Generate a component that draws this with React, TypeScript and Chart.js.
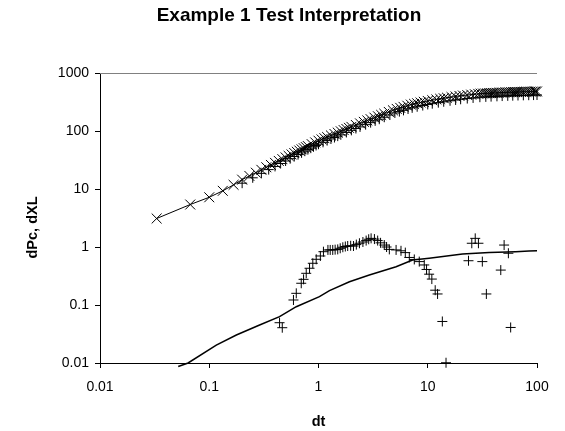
import React, { useEffect, useRef } from 'react';
import { Chart, registerables } from 'chart.js';

Chart.register(...registerables);

const TITLE = 'Example 1 Test Interpretation';
const X_TITLE = 'dt';
const Y_TITLE = 'dPc, dXL';

const xTickValues = [0.01, 0.1, 1, 10, 100];
const xTickLabels = ['0.01', '0.1', '1', '10', '100'];
const yTickValues = [0.01, 0.1, 1, 10, 100, 1000];
const yTickLabels = ['0.01', '0.1', '1', '10', '100', '1000'];

// Series 1: x markers joined by a thin line
const dtCross = [0.033, 0.067, 0.1, 0.133, 0.167, 0.2, 0.233, 0.267, 0.3, 0.333, 0.367, 0.4, 0.433, 0.467, 0.5, 0.533, 0.567, 0.6, 0.633, 0.667, 0.7, 0.733, 0.767, 0.8, 0.867, 0.933, 1.0, 1.067, 1.133, 1.2, 1.3, 1.4, 1.5, 1.6, 1.7, 1.8, 1.9, 2.0, 2.2, 2.4, 2.6, 2.8, 3.0, 3.25, 3.5, 3.75, 4.0, 4.4, 4.8, 5.2, 5.6, 6.0, 6.5, 7.0, 7.5, 8.0, 8.6, 9.2, 10, 11, 12, 13, 14, 15, 16.5, 18, 19.5, 21, 23, 25, 27, 29, 30.5, 32, 33.5, 35, 36.5, 38, 39.5, 41, 43, 45, 47, 49, 51, 53, 55.5, 58, 60.5, 63, 65.5, 68, 71, 74, 77, 80, 83.5, 87, 90.5, 94, 97, 100];
const valCross = [3.1, 5.4, 7.2, 9.3, 11.8, 14.5, 16.8, 19.1, 21.4, 23.7, 26.0, 28.2, 30.5, 32.7, 35.0, 37.2, 39.4, 41.7, 43.9, 46.1, 48.3, 50.5, 52.7, 54.9, 59.3, 63.6, 68, 71.6, 75.1, 78.6, 83.8, 88.9, 93.8, 98.8, 103.7, 108.5, 113.3, 118, 126.8, 135.3, 143.7, 151.9, 160, 169.9, 179.7, 189.2, 198.6, 213.3, 227.5, 240.3, 250.7, 260.9, 272.9, 285, 293.2, 301, 310, 318.7, 330, 340, 349.4, 358.4, 366.9, 375, 384.7, 393.8, 402.4, 409, 416.7, 423.9, 430.5, 436.9, 440.7, 442.7, 444.7, 446.5, 448.3, 450, 451.7, 453.3, 455.4, 457.4, 459.3, 461.1, 462.5, 463.7, 465.0, 466.4, 467.6, 468.8, 470.0, 471.1, 472.1, 473.2, 474.1, 475, 476.0, 476.9, 477.8, 478.6, 479.3, 480];

// Series 2: + markers in the upper band
const dtPlusTop = [0.2, 0.25, 0.3, 0.35, 0.4, 0.45, 0.5, 0.55, 0.6, 0.65, 0.7, 0.75, 0.8, 0.85, 0.9, 0.95, 1.0, 1.1, 1.2, 1.3, 1.4, 1.5, 1.6, 1.8, 2.0, 2.2, 2.4, 2.7, 3.0, 3.3, 3.6, 4.0, 4.5, 5.0, 5.5, 6.0, 6.6, 7.2, 8.0, 9.0, 10, 11, 12.5, 14, 16, 18, 20, 23, 26, 30, 34, 38, 43, 48, 54, 60, 67, 75, 84, 93, 100];
const valPlusTop = [12.6, 15.6, 18.6, 21.6, 24.5, 27.5, 30.4, 33.3, 36.3, 39.2, 42.0, 44.9, 47.8, 50.6, 53.5, 56.3, 59.2, 63.8, 68.4, 72.9, 77.3, 81.6, 86.0, 94.4, 102.7, 110.3, 117.7, 128.6, 139.2, 149.5, 159.7, 172.8, 188.6, 204.5, 215.9, 227.0, 239.4, 250.8, 261.9, 274.7, 287.1, 295.8, 308.1, 319.2, 331.9, 342.6, 352.4, 362.5, 371.8, 382.8, 387.4, 391.5, 396.2, 400.4, 403.9, 406.6, 409.5, 412.0, 414.2, 416.2, 417.6];

// Series 3: + markers (lower hump and scatter)
const dtDeriv = [0.44, 0.466, 0.59, 0.626, 0.695, 0.73, 0.772, 0.828, 0.887, 0.953, 1.04, 1.11, 1.22, 1.28, 1.35, 1.42, 1.5, 1.58, 1.67, 1.76, 1.85, 1.97, 2.09, 2.22, 2.37, 2.55, 2.73, 2.88, 3.03, 3.25, 3.48, 3.7, 4.0, 4.2, 4.45, 5.13, 5.69, 6.23, 6.78, 7.53, 8.36, 9.29, 9.75, 10.3, 10.9, 11.7, 12.3, 13.6, 14.7, 23.6, 25.3, 27.2, 29.1, 31.6, 34.4, 46.6, 50, 54.7, 57.4];
const valDeriv = [0.0495, 0.0406, 0.122, 0.159, 0.237, 0.277, 0.352, 0.43, 0.524, 0.614, 0.7, 0.83, 0.89, 0.89, 0.89, 0.9, 0.91, 0.95, 0.99, 1.02, 1.04, 1.05, 1.04, 1.1, 1.16, 1.22, 1.29, 1.36, 1.41, 1.37, 1.29, 1.18, 1.08, 1.0, 0.91, 0.89, 0.86, 0.8, 0.66, 0.61, 0.56, 0.49, 0.41, 0.34, 0.28, 0.18, 0.155, 0.052, 0.0101, 0.58, 1.16, 1.41, 1.16, 0.56, 0.155, 0.4, 1.08, 0.78, 0.041];

// Series 4: solid curve without markers
const dtModel = [0.052, 0.064, 0.116, 0.177, 0.289, 0.44, 0.626, 1.02, 1.26, 1.92, 2.92, 5.13, 7.26, 10.3, 20.8, 36.5, 63.9, 84.5, 100];
const valModel = [0.0087, 0.01, 0.0204, 0.0304, 0.0452, 0.0629, 0.0935, 0.139, 0.177, 0.252, 0.329, 0.457, 0.597, 0.64, 0.757, 0.8, 0.83, 0.853, 0.86];

const FONT = "Arial, 'Liberation Sans', sans-serif";

const pts = (xs: number[], ys: number[]) => xs.map((x, i) => ({ x, y: ys[i] }));

const textPlugin = {
  id: 'excelText',
  afterDraw(chart: any) {
    const { ctx, chartArea } = chart;
    ctx.save();
    ctx.strokeStyle = '#808080';
    ctx.lineWidth = 1;
    ctx.beginPath();
    ctx.moveTo(chartArea.left, chartArea.top + 0.5);
    ctx.lineTo(chartArea.right, chartArea.top + 0.5);
    ctx.stroke();

    ctx.fillStyle = '#000';
    ctx.textAlign = 'center';
    ctx.textBaseline = 'alphabetic';
    ctx.font = `bold 19px ${FONT}`;
    ctx.fillText(TITLE, 289, 21);

    ctx.font = `bold 14.5px ${FONT}`;
    ctx.fillText(X_TITLE, (chartArea.left + chartArea.right) / 2, 425.5);

    ctx.translate(37, 227.5);
    ctx.rotate(-Math.PI / 2);
    ctx.fillText(Y_TITLE, 0, 0);
    ctx.restore();
  },
};

export default function App() {
  const ref = useRef<HTMLCanvasElement | null>(null);

  useEffect(() => {
    document.body.style.margin = '0';
    const canvas = ref.current;
    if (!canvas) return;
    const markerCommon = {
      showLine: false,
      pointBorderColor: '#000',
      pointBackgroundColor: '#000',
      pointBorderWidth: 1,
      clip: false as any,
    };
    const chart = new Chart(canvas, {
      type: 'scatter',
      data: {
        datasets: [
          {
            label: 'dPc',
            data: pts(dtCross, valCross),
            showLine: true,
            borderColor: '#000',
            borderWidth: 1,
            pointStyle: 'crossRot',
            pointRadius: 7,
            pointBorderColor: '#000',
            pointBorderWidth: 1,
            clip: false as any,
          },
          {
            label: 'dXL',
            data: pts(dtPlusTop, valPlusTop),
            pointStyle: 'cross',
            pointRadius: 5,
            ...markerCommon,
          },
          {
            label: 'derivative',
            data: pts(dtDeriv, valDeriv),
            pointStyle: 'cross',
            pointRadius: 5,
            ...markerCommon,
          },
          {
            label: 'model',
            data: pts(dtModel, valModel),
            showLine: true,
            borderColor: '#000',
            borderWidth: 1.5,
            pointRadius: 0,
            clip: false as any,
          },
        ],
      },
      options: {
        animation: false,
        responsive: false,
        maintainAspectRatio: false,
        layout: { padding: { left: 0, right: 28, top: 73, bottom: 0 } },
        plugins: {
          legend: { display: false },
          title: { display: false },
          tooltip: { enabled: false },
        },
        scales: {
          x: {
            type: 'logarithmic',
            position: 'bottom',
            min: 0.01,
            max: 100,
            afterBuildTicks: (s: any) => {
              s.ticks = xTickValues.map((v) => ({ value: v }));
            },
            afterFit: (s: any) => {
              s.height = 68;
            },
            ticks: {
              autoSkip: false,
              maxRotation: 0,
              padding: 11,
              color: '#000',
              font: { family: FONT, size: 14 },
              callback: (v: any) => {
                const i = xTickValues.indexOf(Number(v));
                return i >= 0 ? xTickLabels[i] : '';
              },
            },
            grid: { drawOnChartArea: false, drawTicks: true, tickLength: 5, color: '#000' },
            border: { display: true, color: '#000', width: 1 },
          },
          y: {
            type: 'logarithmic',
            position: 'left',
            min: 0.01,
            max: 1000,
            afterBuildTicks: (s: any) => {
              s.ticks = yTickValues.map((v) => ({ value: v }));
            },
            afterFit: (s: any) => {
              s.width = 100;
            },
            ticks: {
              autoSkip: false,
              padding: 6,
              color: '#000',
              font: { family: FONT, size: 14 },
              callback: (v: any) => {
                const i = yTickValues.indexOf(Number(v));
                return i >= 0 ? yTickLabels[i] : '';
              },
            },
            grid: { drawOnChartArea: false, drawTicks: true, tickLength: 5, color: '#000' },
            border: { display: true, color: '#000', width: 1 },
          },
        },
      },
      plugins: [textPlugin],
    });
    return () => chart.destroy();
  }, []);

  return (
    <div style={{ width: 565, height: 431, background: '#fff' }}>
      <canvas ref={ref} width={565} height={431} style={{ display: 'block' }} />
    </div>
  );
}
